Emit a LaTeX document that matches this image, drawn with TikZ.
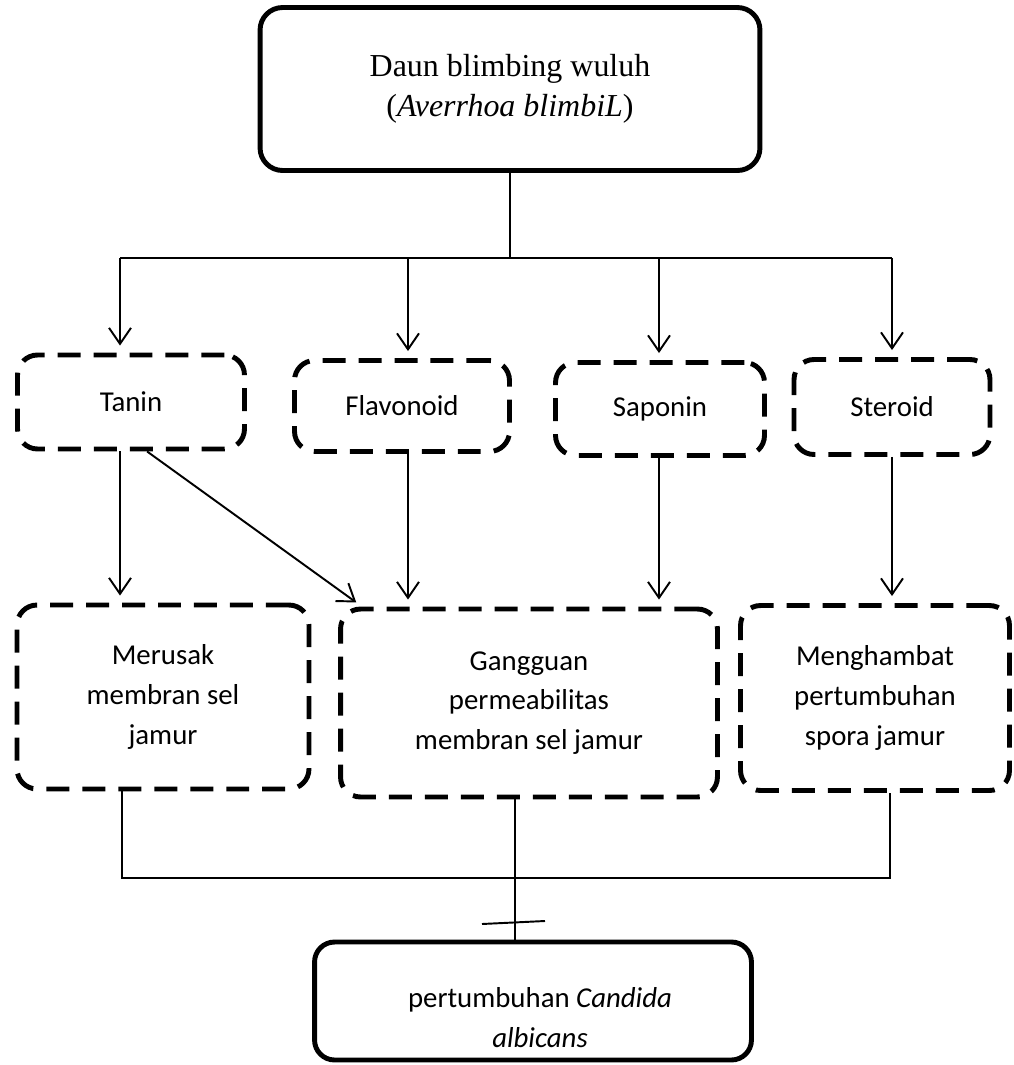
\documentclass[tikz,border=0pt]{standalone}
\usepackage{fontspec}
\setmainfont{Liberation Serif}
\newfontfamily\calibri{Carlito}
\usetikzlibrary{arrows.meta}

\begin{document}
\begin{tikzpicture}[x=0.02cm, y=-0.02cm, >={Straight Barb[length=0.32cm,width=0.44cm]}, line width=1.1pt]

    \tikzstyle{kotak}=[draw, rounded corners=0.45cm, line width=2.8pt, align=center]
    \tikzstyle{putus}=[draw, rounded corners=0.4cm, line width=2.8pt, dash pattern=on 0.46cm off 0.26cm, align=center, font=\calibri\fontsize{16.4}{22.7}\selectfont]
    \tikzstyle{panah}=[->, shorten >=0.14cm]

    \useasboundingbox (0,0) rectangle (1014,1065);

    \node[kotak, minimum width=10cm, minimum height=3.26cm, font=\fontsize{18.2}{22.7}\selectfont] (daun) at (510,89) {Daun blimbing wuluh\\(\textit{Averrhoa blimbiL})};

    \node[putus, minimum width=4.54cm, minimum height=1.88cm] (tanin)     at (131,402) {Tanin};
    \node[putus, minimum width=4.3cm,  minimum height=1.82cm] (flavonoid) at (402,406) {Flavonoid};
    \node[putus, minimum width=4.18cm, minimum height=1.86cm] (saponin)   at (660,409) {Saponin};
    \node[putus, minimum width=3.92cm, minimum height=1.9cm]  (steroid)   at (892,407) {Steroid};

    \node[putus, minimum width=5.84cm, minimum height=3.68cm] (merusak)    at (163,697) {Merusak\\membran sel\\jamur};
    \node[putus, minimum width=7.54cm, minimum height=3.76cm] (gangguan)   at (529,703) {Gangguan\\permeabilitas\\membran sel jamur};
    \node[putus, minimum width=5.38cm, minimum height=3.7cm]  (menghambat) at (875,698) {Menghambat\\pertumbuhan\\spora jamur};

    \node[kotak, rounded corners=0.4cm, minimum width=8.74cm, minimum height=2.36cm] (hasil) at (533,1001) {};
    \node[align=center, font=\calibri\fontsize{16.4}{22.7}\selectfont] (hasilteks) at (540,1018) {pertumbuhan \textit{Candida}\\\textit{albicans}};

    % percabangan dari daun
    \coordinate (c1) at (120,258);
    \coordinate (c2) at (408,258);
    \coordinate (c3) at (659,258);
    \coordinate (c4) at (892,258);

    \draw (daun.south) -- (daun.south |- c1);
    \draw (c1) -- (c4);
    \draw[panah] (c1) -- (c1 |- tanin.north);
    \draw[panah] (c2) -- (c2 |- flavonoid.north);
    \draw[panah] (c3) -- (c3 |- saponin.north);
    \draw[panah] (c4) -- (c4 |- steroid.north);

    % senyawa ke mekanisme
    \draw[panah] (c1 |- tanin.south)     -- (c1 |- merusak.north);
    \draw[panah] (tanin.288)             -- (gangguan.150);
    \draw[panah] (c2 |- flavonoid.south) -- (c2 |- gangguan.north);
    \draw[panah] (c3 |- saponin.south)   -- (c3 |- gangguan.north);
    \draw[panah] (c4 |- steroid.south)   -- (c4 |- menghambat.north);

    % gabungan ke hasil
    \coordinate (g1) at (122,878);
    \coordinate (g2) at (515,878);
    \coordinate (g3) at (890,878);
    \coordinate (hambat) at (515,922);

    \draw (g1 |- merusak.south) -- (g1) -- (g3) -- (g3 |- menghambat.south);
    \draw (g2 |- gangguan.south) -- (g2 |- hasil.north);
    \draw ([shift={(-33,2)}]hambat) -- ([shift={(30,-1)}]hambat);

\end{tikzpicture}
\end{document}
